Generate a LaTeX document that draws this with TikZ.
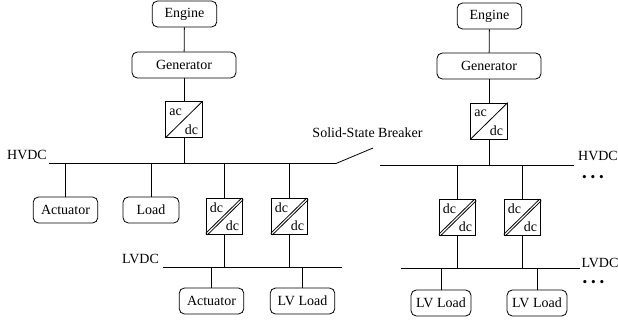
\documentclass[tikz,border=0pt]{standalone}
\usepackage{fontspec}
\setmainfont{Liberation Serif}
\tikzset{
  blockbox/.style={draw, rounded corners=4pt, minimum height=19.5pt, inner sep=0pt, font=\fontsize{10.5}{12}\selectfont},
  convbox/.style={draw, minimum width=27.5pt, minimum height=27pt, inner sep=0pt},
  convtext/.style={inner sep=0pt, font=\fontsize{10.5}{12}\selectfont},
  busline/.style={line width=0.6pt},
  buslabel/.style={inner sep=0pt, font=\fontsize{10.5}{12}\selectfont},
  busdots/.style={inner sep=0pt, font=\fontsize{10}{10}\selectfont}
}
\begin{document}
\begin{tikzpicture}[x=0.75pt, y=-0.75pt, line width=0.6pt]
    \useasboundingbox (0,0) rectangle (618,322);

    % bus ends
    \coordinate (hvdcA) at (49,163.5);
    \coordinate (hvdcB) at (336,163.5);
    \coordinate (breakerEnd) at (373,148);
    \coordinate (hvdcC) at (380,165);
    \coordinate (hvdcD) at (574,165);
    \coordinate (lvdcA) at (163,267);
    \coordinate (lvdcB) at (342,267);
    \coordinate (lvdcC) at (401,268);
    \coordinate (lvdcD) at (580,268);

    % boxes
    \node[blockbox, minimum width=48.5pt] (engineL) at (184.5,14) {Engine};
    \node[blockbox, minimum width=78pt] (generatorL) at (184,65) {Generator};
    \node[blockbox, minimum width=48.5pt] (engineR) at (489.5,16) {Engine};
    \node[blockbox, minimum width=78pt] (generatorR) at (489,66) {Generator};
    \node[blockbox, minimum width=48.5pt] (actuatorA) at (65.5,210) {Actuator};
    \node[blockbox, minimum width=42pt] (load) at (151,210) {Load};
    \node[blockbox, minimum width=48.5pt] (actuatorB) at (211.5,301) {Actuator};
    \node[blockbox, minimum width=48.5pt] (lvloadA) at (302.5,301) {LV Load};
    \node[blockbox, minimum width=45pt] (lvloadB) at (441,303) {LV Load};
    \node[blockbox, minimum width=45pt] (lvloadC) at (537,303) {LV Load};

    % converters
    \foreach \n/\x/\y/\up/\down in {acdcL/184/119.5/ac/dc, acdcR/489/121/ac/dc}{
      \node[convbox] (\n) at (\x,\y) {};
      \draw (\n.south west) -- (\n.north east);
      \node[convtext] (\n up) at (\x-8.5,\y-7.5) {\up};
      \node[convtext] (\n down) at (\x+7.5,\y+10) {\down};
    }
    \foreach \n/\x/\y in {dcdcA/224.5/216.5, dcdcB/289.5/216.5, dcdcC/457.5/217.5, dcdcD/522.5/217.5}{
      \node[convbox] (\n) at (\x,\y) {};
      \draw ([yshift=1.2pt]\n.south west) -- ([xshift=-1.2pt]\n.north east);
      \draw ([xshift=1.2pt]\n.south west) -- ([yshift=-1.2pt]\n.north east);
      \node[convtext] (\n up) at (\x-8,\y-9) {dc};
      \node[convtext] (\n down) at (\x+8,\y+9) {dc};
    }

    % lines
    \draw[busline] (hvdcA) -- (hvdcB) -- (breakerEnd);
    \draw[busline] (hvdcC) -- (hvdcD);
    \draw[busline] (lvdcA) -- (lvdcB);
    \draw[busline] (lvdcC) -- (lvdcD);
    \draw (engineL) -- (generatorL);
    \draw (generatorL) -- (acdcL);
    \draw (acdcL.south) -- (acdcL.south |- hvdcA);
    \draw (engineR) -- (generatorR);
    \draw (generatorR) -- (acdcR);
    \draw (acdcR.south) -- (acdcR.south |- hvdcC);
    \draw (actuatorA.north) -- (actuatorA.north |- hvdcA);
    \draw (load.north) -- (load.north |- hvdcA);
    \draw (dcdcA.north) -- (dcdcA.north |- hvdcA);
    \draw (dcdcB.north) -- (dcdcB.north |- hvdcA);
    \draw (dcdcA.south) -- (dcdcA.south |- lvdcA);
    \draw (dcdcB.south) -- (dcdcB.south |- lvdcA);
    \draw (actuatorB.north) -- (actuatorB.north |- lvdcA);
    \draw (lvloadA.north) -- (lvloadA.north |- lvdcA);
    \draw (dcdcC.north) -- (dcdcC.north |- hvdcC);
    \draw (dcdcD.north) -- (dcdcD.north |- hvdcC);
    \draw (dcdcC.south) -- (dcdcC.south |- lvdcC);
    \draw (dcdcD.south) -- (dcdcD.south |- lvdcC);
    \draw (lvloadB.north) -- (lvloadB.north |- lvdcC);
    \draw (lvloadC.north) -- (lvloadC.north |- lvdcC);

    % labels
    \node[buslabel] (hvdcTextL) at (27,154.5) {HVDC};
    \node[buslabel] (hvdcTextR) at (598,155.5) {HVDC};
    \node[buslabel] (lvdcTextL) at (140.5,259) {LVDC};
    \node[buslabel] (lvdcTextR) at (600,263) {LVDC};
    \node[buslabel] (breakerText) at (367.5,133) {Solid-State Breaker};
    \node[busdots] (dotsHigh) at (593,178.5) {\textbullet\hspace{2.9pt}\textbullet\hspace{2.9pt}\textbullet};
    \node[busdots] (dotsLow) at (593.5,283.5) {\textbullet\hspace{2.9pt}\textbullet\hspace{2.9pt}\textbullet};
  \end{tikzpicture}
\end{document}
